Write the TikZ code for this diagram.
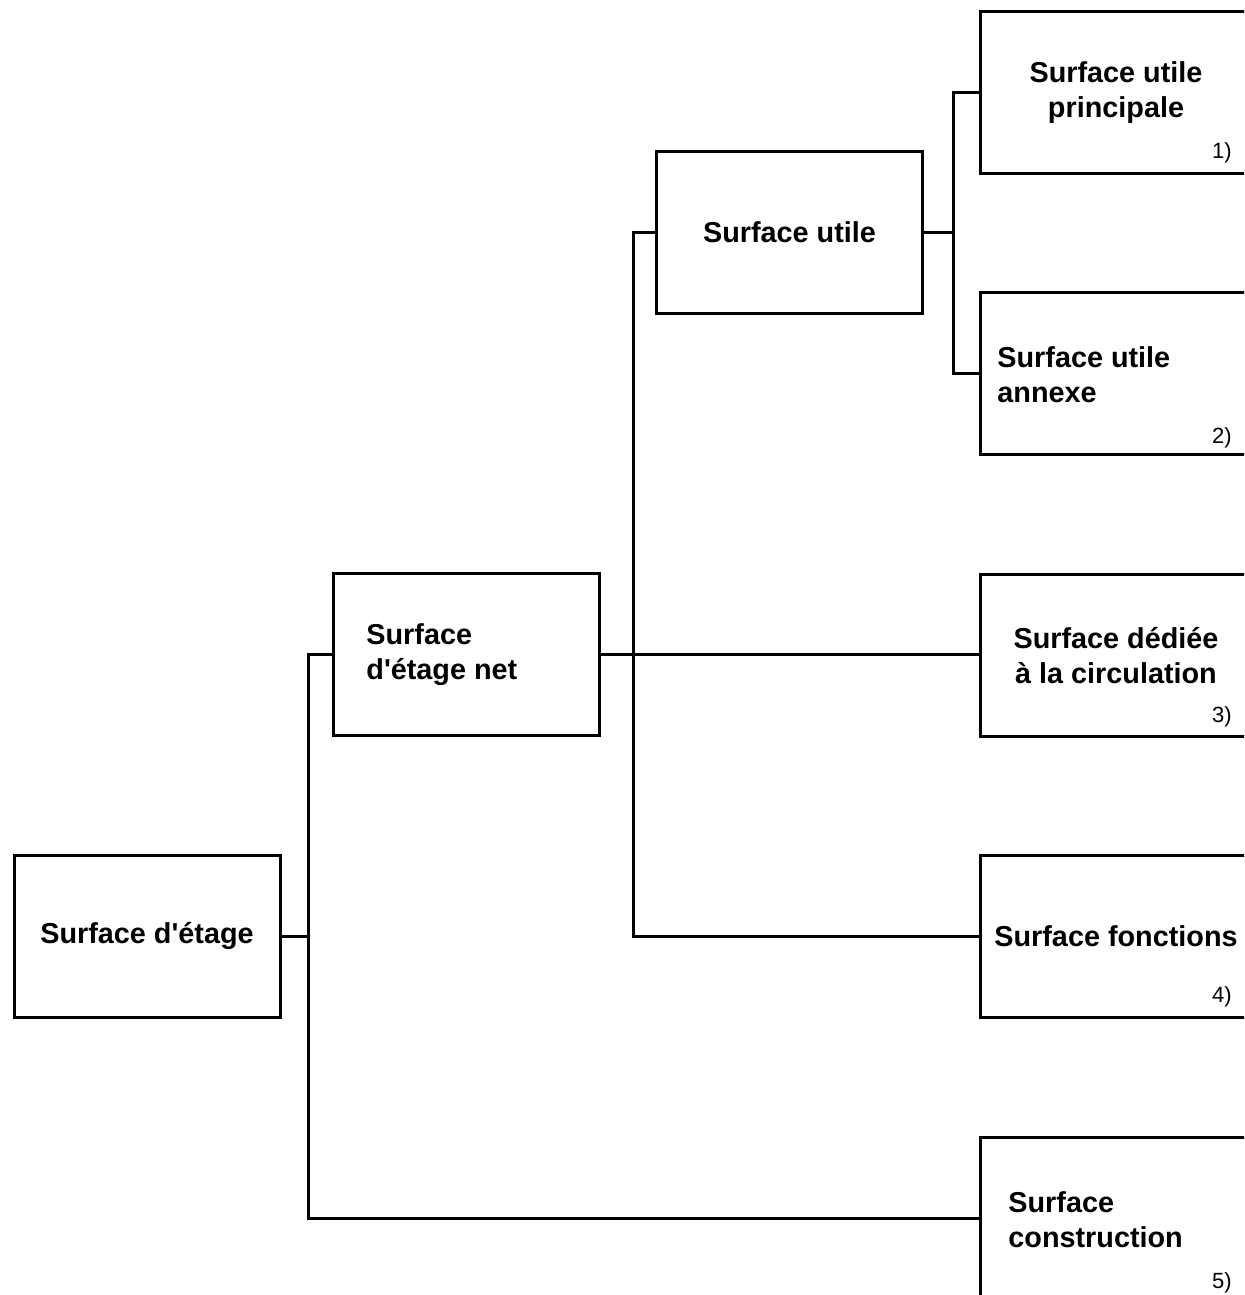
\documentclass[tikz,border=0pt]{standalone}
\usepackage{fontspec}
\setmainfont{Liberation Sans}
\tikzset{
  box/.style={draw, line width=1.5pt, minimum width=133pt, minimum height=81pt,
    inner sep=0pt, font=\fontsize{14.4}{17.5}\selectfont\bfseries, align=center},
  rbox/.style={box, minimum width=136pt},
  txt/.style={font=\fontsize{14.4}{17.5}\selectfont\bfseries, align=left, inner sep=0pt},
  num/.style={font=\fontsize{11}{13}\selectfont, inner sep=0pt},
  wire/.style={line width=1.5pt},
}
\begin{document}
\begin{tikzpicture}[x=0.5pt,y=-0.5pt]
\useasboundingbox (0,0) rectangle (1244,1295);
\clip (0,0) rectangle (1244,1295);
% left column
\node[box] (etage) at (147,936) {Surface d\textquotesingle étage};
\node[box] (net) at (466.5,654.5) {};
\node[txt,anchor=west] (nettxt) at (366,655) {Surface\\d\textquotesingle étage net};
\node[box] (utile) at (789.5,232) {Surface utile};
% right column (cut by the page edge)
\node[rbox] (princ) at (1116,92.5) {Surface utile\\principale};
\node[rbox] (annexe) at (1116,373) {};
\node[txt,anchor=west] (annexetxt) at (997,374.5) {Surface utile\\annexe};
\node[rbox] (circ) at (1116,655.5) {Surface dédiée\\à la circulation};
\node[rbox] (fonct) at (1116,936) {Surface fonctions};
\node[rbox] (constr) at (1116,1218) {};
\node[txt,anchor=west] (constrtxt) at (1008,1219.5) {Surface\\construction};
% numbers
\node[num] (n1) at (1222,153) {1)};
\node[num] (n2) at (1222,438) {2)};
\node[num] (n3) at (1222,717) {3)};
\node[num] (n4) at (1222,997) {4)};
\node[num] (n5) at (1222,1283) {5)};
% connectors
\coordinate (j1) at (308,936);
\coordinate (j2) at (633,655);
\coordinate (j3) at (953,232);
\draw[wire] (etage.east) -- (j1);
\draw[wire] (net.west) -| (j1) |- (constr.west);
\draw[wire] (net.east) -- (net.east -| circ.west);
\draw[wire] (utile.west) -| (j2) |- (fonct.west);
\draw[wire] (utile.east) -- (j3);
\draw[wire] (princ.west) -| (j3) |- (annexe.west);
\end{tikzpicture}
\end{document}
